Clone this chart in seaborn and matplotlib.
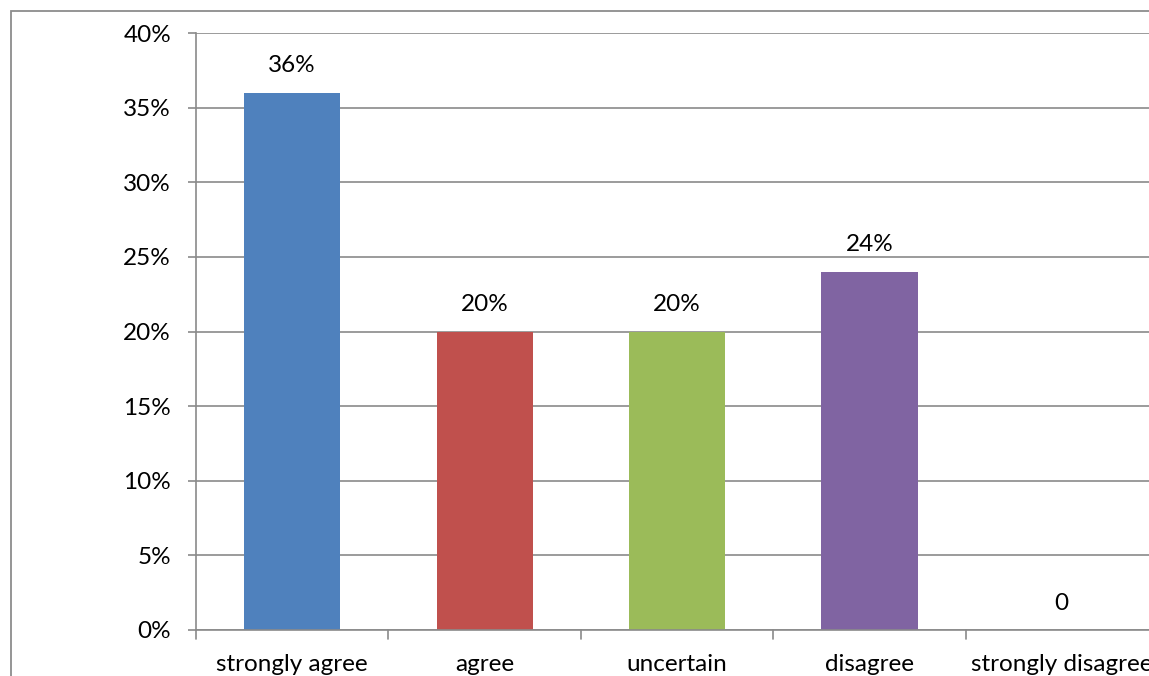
import matplotlib
matplotlib.use("Agg")
import matplotlib.pyplot as plt
import seaborn as sns
from matplotlib.patches import Rectangle
from matplotlib.ticker import MultipleLocator, FuncFormatter

categories = ["strongly agree", "agree", "uncertain", "disagree", "strongly disagree"]
shares = [0.36, 0.20, 0.20, 0.24, 0.0]
colors = ["#4F81BD", "#C0504D", "#9BBB59", "#8064A2", "#4BACC6"]

sns.set_theme(style="white")
plt.rcParams["font.family"] = ["Lato", "DejaVu Sans"]

FS = 17.5
W, H = 1149, 676
fig = plt.figure(figsize=(W / 100, H / 100), dpi=100)

# outer chart frame (top and left edges visible)
fig.patches.append(Rectangle((11 / W, -0.1), 1.2, 1 - 11 / H + 0.1,
                             transform=fig.transFigure, fill=False,
                             edgecolor="#8c8c8c", linewidth=1.3))

left, right, top, bottom = 196, 1158, 33, 630
ax = fig.add_axes([left / W, 1 - bottom / H, (right - left) / W, (bottom - top) / H])

sns.barplot(x=categories, y=shares, hue=categories, palette=colors,
            width=0.5, legend=False, ax=ax, saturation=1, linewidth=0)

ax.set_ylim(0, 0.40)
ax.set_xlim(-0.5, len(categories) - 0.5)
ax.yaxis.set_major_locator(MultipleLocator(0.05))
ax.yaxis.set_major_formatter(FuncFormatter(lambda v, _: f"{v * 100:.0f}%"))
ax.grid(axis="y", color="#8a8a8a", linewidth=1.2)
ax.set_axisbelow(True)
ax.set_xlabel("")
ax.set_ylabel("")

for s in ["top", "right"]:
    ax.spines[s].set_visible(False)
for s in ["left", "bottom"]:
    ax.spines[s].set_color("#8a8a8a")
    ax.spines[s].set_linewidth(1.2)

ax.tick_params(axis="y", left=True, length=6, width=1.2, color="#8a8a8a",
               labelsize=FS, pad=12, labelcolor="black")
ax.tick_params(axis="x", bottom=False, labelsize=FS, pad=11, labelcolor="black")

# category separators below the axis
for b in [i - 0.5 for i in range(len(categories) + 1)]:
    ax.plot([b, b], [0, -0.006], color="#8a8a8a", linewidth=1.2, clip_on=False)

for i, v in enumerate(shares):
    label = f"{v * 100:.0f}%" if v else "0"
    ax.text(i, v + 0.018, label, ha="center", va="center", fontsize=FS, color="black")

fig.savefig("out.png", dpi=100)
